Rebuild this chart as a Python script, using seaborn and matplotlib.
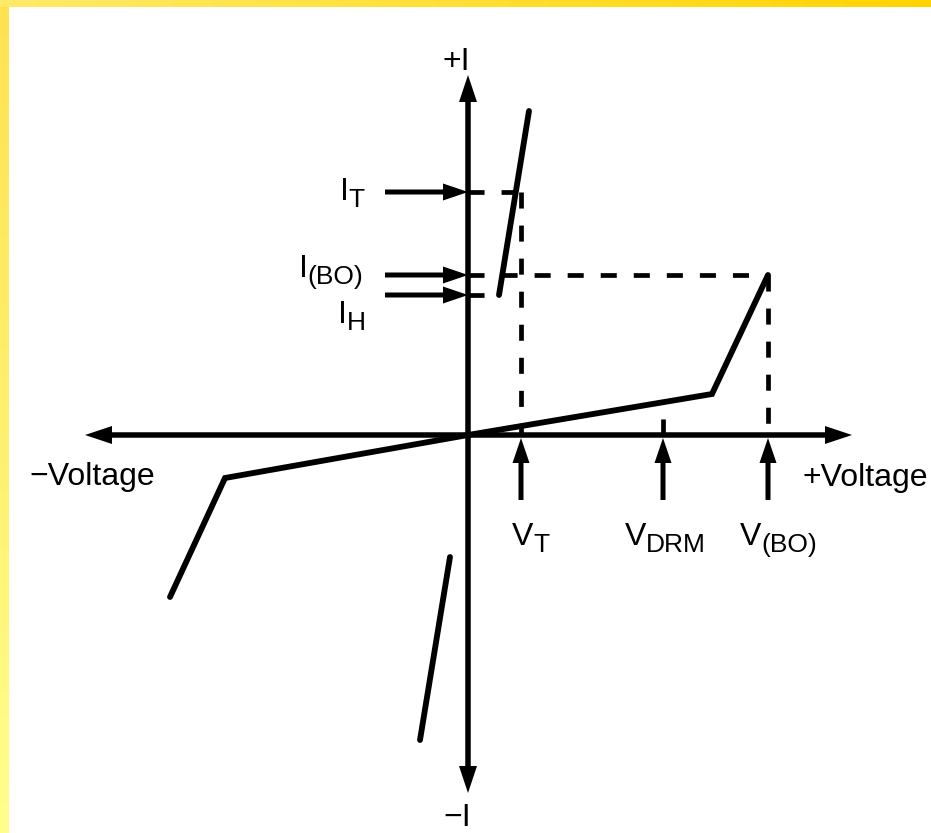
import numpy as np
import pandas as pd
import matplotlib
matplotlib.use("Agg")
import matplotlib.pyplot as plt
import seaborn as sns

# V-I characteristic of a thyristor-type switch, in diagram units
off_pos_v = [0.0, 24.4, 30.0]
off_pos_i = [0.0, 4.1, 16.0]
off_neg_v = [0.0, -24.3, -29.8]
off_neg_i = [0.0, -4.3, -16.2]
on_pos_v = [3.1, 6.1]
on_pos_i = [14.0, 32.4]
on_neg_v = [-1.8, -4.8]
on_neg_i = [-12.2, -30.5]

# levels marked on the current axis and the voltage axis
i_subs = ["T", "(BO)", "H"]
i_values = [24.3, 16.0, 14.0]
i_label_x = [-12.8, -16.9, -13.0]
i_label_y = [23.5, 15.8, 11.2]
v_subs = ["T", "DRM", "(BO)"]
v_values = [5.3, 19.5, 30.0]
v_label_x = [4.4, 15.7, 27.2]
v_label_y = -11.0

sns.set_theme(style="white")
plt.rcParams["font.family"] = ["Liberation Sans", "DejaVu Sans"]

fig = plt.figure(figsize=(9.31, 8.33), dpi=100, facecolor="white")
ax = fig.add_axes([0, 0, 1, 1])
XL, XR, YB, YT = -46.8, 46.3, -39.8, 43.5
ax.set_xlim(XL, XR)
ax.set_ylim(YB, YT)
ax.axis("off")

# decorative gradient frame along top and left edges
t = np.linspace(0, 1, 256)
top = np.zeros((1, 256, 3))
top[0, :, 0] = 1.0
top[0, :, 1] = (234 + (212 - 234) * t) / 255
top[0, :, 2] = (105 + (0 - 105) * t) / 255
ax.imshow(top, extent=(XL, XR, YT - 0.7, YT), aspect="auto", zorder=5)
left = np.zeros((256, 1, 3))
left[:, 0, 0] = 1.0
left[:, 0, 1] = (226 + (255 - 226) * t) / 255
left[:, 0, 2] = (80 + (140 - 80) * t) / 255
ax.imshow(left, extent=(XL, XL + 0.9, YB, YT - 0.7), aspect="auto", zorder=5)

K = "black"
AX_W = 0.55   # shaft width in data units (1 unit = 10 px)

def arrow(x0, y0, x1, y1, head_len=2.7, head_w=1.8, width=AX_W):
    ax.arrow(x0, y0, x1 - x0, y1 - y0, width=width, head_width=head_w,
             head_length=head_len, length_includes_head=True,
             color=K, lw=0, zorder=3)

# coordinate axes
arrow(0, 0, 38.4, 0)
arrow(0, 0, -38.3, 0)
arrow(0, 0, 0, 36.0)
arrow(0, 0, 0, -35.8)

# characteristic curve segments
segments = [(off_pos_v, off_pos_i), (off_neg_v, off_neg_i),
            (on_pos_v, on_pos_i), (on_neg_v, on_neg_i)]
for v, i in segments:
    df = pd.DataFrame({"V": v, "I": i})
    sns.lineplot(data=df, x="V", y="I", sort=False, estimator=None, ax=ax,
                 color=K, lw=4.2, solid_capstyle="round",
                 solid_joinstyle="miter", zorder=4)

dash = dict(color=K, lw=3.4, linestyle=(0, (3.4, 3.6)), zorder=2)
# I_T and V_T guides
ax.plot([0, v_values[0]], [i_values[0], i_values[0]], **dash)
ax.plot([v_values[0], v_values[0]], [i_values[0], 0], **dash)
# breakover guides
ax.plot([0, v_values[2]], [i_values[1], i_values[1]], **dash)
ax.plot([v_values[2], v_values[2]], [i_values[1], 0], **dash)
# holding current guide
ax.plot([0, on_pos_v[0]], [i_values[2], i_values[2]], **dash)
# V_DRM guide up to the off-state curve
i_drm = np.interp(v_values[1], off_pos_v, off_pos_i)
ax.plot([v_values[1], v_values[1]], [0, i_drm], **dash)

# pointer arrows to the current axis
for val in i_values:
    arrow(-8.3, val, 0, val, head_len=2.5, head_w=1.7, width=0.5)
# pointer arrows to the voltage axis
for val in v_values:
    arrow(val, -6.5, val, -0.3, head_len=2.5, head_w=1.7, width=0.5)

FS = 23
SUB_FS = 19


def symbol(x, y, main, sub):
    m = ax.text(x, y, main, ha="left", va="baseline", fontsize=FS, color=K)
    # subscript sits on the lower edge of the main letter's box
    ax.annotate(sub, xy=(1, 0), xycoords=m, ha="left", va="baseline",
                fontsize=SUB_FS, color=K)


for sub, x, y in zip(i_subs, i_label_x, i_label_y):
    symbol(x, y, "I", sub)
for sub, x in zip(v_subs, v_label_x):
    symbol(x, v_label_y, "V", sub)

ax.text(-1.2, 36.5, "+I", ha="center", va="baseline", fontsize=FS, color=K)
ax.text(-1.1, YB, "\u2212I", ha="center", va="bottom", fontsize=FS, color=K)
ax.text(-43.9, -5.0, "\u2212Voltage", ha="left", va="baseline", fontsize=FS, color=K)
ax.text(33.5, -5.1, "+Voltage", ha="left", va="baseline", fontsize=FS, color=K)

fig.savefig("out.png", dpi=100, facecolor="white")
